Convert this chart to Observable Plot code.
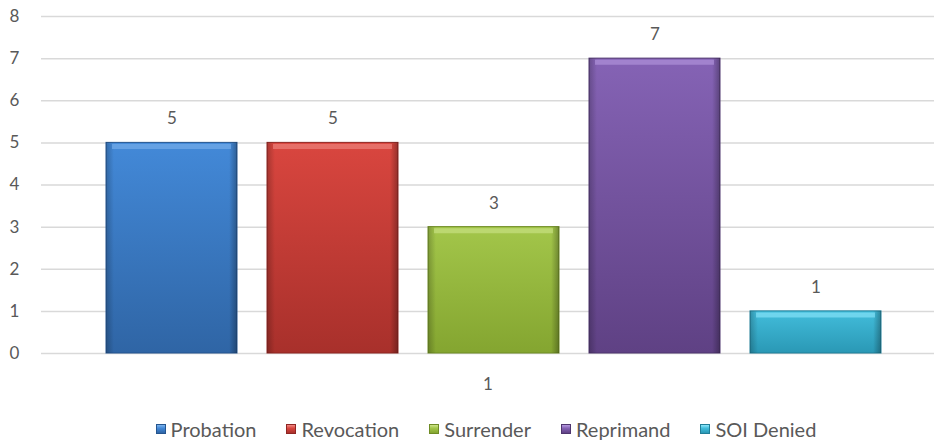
<!DOCTYPE html>
<html>
<head>
<meta charset="utf-8">
<script src="https://cdn.jsdelivr.net/npm/d3@7"></script>
<script src="https://cdn.jsdelivr.net/npm/@observablehq/plot@0.6"></script>
<style>
  html, body { margin: 0; padding: 0; background: #fff; }
  body { width: 934px; height: 443px; overflow: hidden; font-family: Lato, "Open Sans", sans-serif; }
  #legend { display: flex; justify-content: center; margin-top: 17px; padding-left: 38px; font-size: 20px; color: #595959; }
  #legend .item { display: flex; align-items: center; margin: 0 15px; }
  #legend .sw { width: 10px; height: 10px; margin-right: 5px; box-sizing: border-box; }
</style>
</head>
<body>
<div id="chart"></div>
<div id="legend"></div>
<script>
const categories = ["Probation", "Revocation", "Surrender", "Reprimand", "SOI Denied"];
const values = [5, 5, 3, 7, 1];
const groupLabel = "1";
const yTicks = [0, 1, 2, 3, 4, 5, 6, 7, 8];
const topColors = ["#4389d8", "#d9463f", "#a3c64a", "#8563b5", "#42bddb"];
const bottomColors = ["#2f65a5", "#a8302b", "#84a530", "#5f4184", "#2a98b5"];
const edgeColors = ["#25558f", "#8f2623", "#6f8c25", "#4f366f", "#217f98"];
const highlightColors = ["#7db3ec", "#f08a84", "#cde48a", "#b69ae0", "#8fe8fb"];

const data = categories.map((c, i) => ({cat: c, value: values[i], group: groupLabel, i}));

const defs = () => {
  const ns = "http://www.w3.org/2000/svg";
  const d = document.createElementNS(ns, "defs");
  let html = "";
  categories.forEach((c, i) => {
    html += `<linearGradient id="g${i}" x1="0" y1="0" x2="0" y2="1">
      <stop offset="0" stop-color="${topColors[i]}"/>
      <stop offset="1" stop-color="${bottomColors[i]}"/>
    </linearGradient>`;
  });
  html += `<linearGradient id="side" x1="0" y1="0" x2="1" y2="0">
      <stop offset="0" stop-color="#000" stop-opacity="0.22"/>
      <stop offset="0.06" stop-color="#000" stop-opacity="0"/>
      <stop offset="0.94" stop-color="#000" stop-opacity="0"/>
      <stop offset="1" stop-color="#000" stop-opacity="0.3"/>
    </linearGradient>`;
  d.innerHTML = html;
  return d;
};

const marks = [
  defs,
  Plot.gridY(yTicks, {stroke: "#d9d9d9", strokeOpacity: 1, strokeWidth: 1.5}),
  Plot.axisY(yTicks, {tickSize: 0, tickPadding: 0, fontSize: 17, fill: "#595959", anchor: "left", dx: -27, textAnchor: "middle", label: null}),
  Plot.axisFx({tickSize: 0, fontSize: 17, fill: "#595959", dy: 15, label: null, anchor: "bottom"}),
];
data.forEach((d, i) => {
  marks.push(Plot.barY([d], {fx: "group", x: "cat", y: "value", fill: `url(#g${i})`, stroke: edgeColors[i], strokeWidth: 1}));
  marks.push(Plot.barY([d], {fx: "group", x: "cat", y: "value", fill: "url(#side)"}));
  marks.push(Plot.tickY([d], {fx: "group", x: "cat", y: "value", stroke: highlightColors[i], strokeWidth: 5, dy: 3.5, insetLeft: 6, insetRight: 6, strokeOpacity: 0.6}));
});
marks.push(Plot.text(data, {fx: "group", x: "cat", y: "value", text: d => String(d.value), dy: -24, fontSize: 17, fill: "#595959"}));

const plot = Plot.plot({
  width: 934,
  height: 400,
  marginTop: 16,
  marginLeft: 41,
  marginRight: 0,
  marginBottom: 47,
  style: {fontFamily: "Lato, 'Open Sans', sans-serif", background: "#fff"},
  fx: {padding: 0, label: null},
  x: {domain: categories, paddingInner: 0.186, paddingOuter: 0.36, align: 0.55, axis: null},
  y: {domain: [0, 8], axis: null},
  marks
});
document.getElementById("chart").appendChild(plot);

const legend = document.getElementById("legend");
categories.forEach((c, i) => {
  const item = document.createElement("div");
  item.className = "item";
  const sw = document.createElement("span");
  sw.className = "sw";
  sw.style.background = `linear-gradient(${highlightColors[i]}, ${topColors[i]} 40%, ${bottomColors[i]})`;
  sw.style.border = `1px solid ${edgeColors[i]}`;
  const t = document.createElement("span");
  t.textContent = c;
  item.appendChild(sw);
  item.appendChild(t);
  legend.appendChild(item);
});
</script>
</body>
</html>
